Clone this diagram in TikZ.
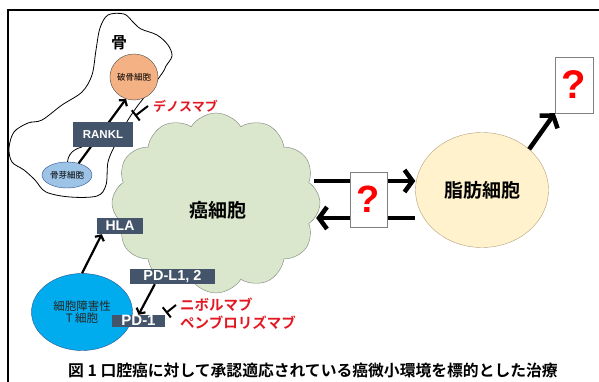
\documentclass[tikz,border=0pt]{standalone}
\usepackage{fontspec}
\setmainfont{Liberation Sans}
\newfontfamily\jp{Noto Sans CJK JP}[BoldFont={Noto Sans CJK JP Bold}]
\usetikzlibrary{shapes, arrows.meta, positioning}
\definecolor{slatebox}{RGB}{68,84,106}
\definecolor{drugred}{RGB}{225,25,35}
\definecolor{clastorange}{RGB}{244,177,131}
\definecolor{blastblue}{RGB}{157,195,230}
\definecolor{tcellblue}{RGB}{0,172,238}
\definecolor{cellline}{RGB}{47,82,143}
\definecolor{cloudgreen}{RGB}{218,231,204}
\definecolor{cloudline}{RGB}{120,130,120}
\definecolor{fatyellow}{RGB}{255,242,204}
\definecolor{fatline}{RGB}{180,160,120}
\newcommand{\fsz}[1]{\fontsize{#1}{#1}\selectfont}

\tikzset{
  markerbox/.style={fill=slatebox, text=white, inner sep=0pt},
  qbox/.style={draw=black!50, fill=white, text=red, inner sep=0pt},
  bigarrow/.style={line width=4.5pt, -{Straight Barb[length=8pt,width=22pt]}},
  smallarrow/.style={line width=2.2pt, -{Straight Barb[length=4pt,width=10pt]}},
  blocker/.style={line width=2pt, -{Bar[width=13pt]}},
  drug/.style={text=drugred, font=\jp\bfseries\fsz{14.5}, inner sep=0pt},
}

\begin{document}
\begin{tikzpicture}[x=1pt, y=-1pt]
  \useasboundingbox (0,0) rectangle (599,382);
  % frame
  \draw[line width=1.5pt] (8,10) rectangle (620,400);

  % bone
  \draw[fill=white, line width=0.8pt] plot[smooth cycle, tension=0.55] coordinates {
    (100,28) (108,15) (124,14) (133,22) (141,29) (157,35) (168,45) (172,56)
    (166,66) (163,72) (150,90) (136,108) (125,125) (115,145) (108,162)
    (106,185) (97,196) (70,197) (46,192) (35,180) (24,170) (12,162) (9,148)
    (14,132) (28,123) (42,120) (62,105) (82,92) (92,75) (96,50)};
  \draw[line width=0.8pt] (82,147) .. controls (70,150) and (66,158) .. (68,168);
  \node[font=\jp\bfseries\fsz{16}] (bone) at (119,43) {骨};
  \node[ellipse, draw=black!70, fill=clastorange, minimum width=44pt, minimum height=46pt, inner sep=0pt, font=\jp\fsz{8.5}] (clast) at (134,77) {破骨細胞};
  \node[ellipse, draw=cellline, fill=blastblue, minimum width=50pt, minimum height=26pt, inner sep=0pt, font=\jp\fsz{8.5}] (blast) at (67,175) {骨芽細胞};
  \draw[smallarrow] (blast.45) -- (clast.250);
  \node[markerbox, minimum width=60pt, minimum height=25pt, font=\bfseries\fsz{11.5}] (rankl) at (103,134.5) {RANKL};

  % denosumab
  \node[drug, font=\jp\bfseries\fsz{13}, anchor=west] (deno) at (153,106) {デノスマブ};
  \coordinate (denostop) at (135,116);
  \draw[blocker] ([xshift=-5pt]deno.west) -- (denostop);

  % cancer cell
  \node[cloud, cloud puffs=12, cloud puff arc=115, draw=cloudline, fill=cloudgreen, minimum width=208pt, minimum height=180pt] (cancer) at (216,203) {};
  \node[font=\jp\bfseries\fsz{19}] (cancerlbl) at (218,210) {癌細胞};

  % T cell and checkpoint
  \node[ellipse, draw=cellline, fill=tcellblue, minimum width=101pt, minimum height=77pt, align=center, font=\jp\fsz{11.5}, text=black!85] (tcell) at (82,312) {細胞障害性\\T 細胞};
  \node[markerbox, minimum width=46pt, minimum height=16pt, font=\bfseries\fsz{14}] (hla) at (120,226) {HLA};
  \node[markerbox, minimum width=85pt, minimum height=15pt, font=\bfseries\fsz{14.5}] (pdl) at (172.5,276.5) {PD-L1, 2};
  \node[markerbox, minimum width=53pt, minimum height=12pt, text height=8pt, text depth=0pt, font=\bfseries\fsz{15}] (pd1) at (138.5,321) {PD-1};
  \draw[smallarrow] (tcell.north) -- ([xshift=5pt]hla.south west);
  \draw[smallarrow] ([xshift=25pt]pdl.south west) -- (pd1.north);
  \node[drug, anchor=west] (nivo) at (180,305) {ニボルマブ};
  \node[drug, anchor=west] (pembro) at (180,323) {ペンブロリズマブ};
  \coordinate (pd1stop) at (166,313);
  \draw[blocker] ([xshift=-4pt]nivo.west) -- (pd1stop);

  % fat cell
  \node[ellipse, draw=fatline, fill=fatyellow, minimum width=133pt, minimum height=115pt, font=\jp\bfseries\fsz{19}] (fat) at (482,190) {脂肪細胞};
  \draw[bigarrow] ([xshift=-6pt, yshift=22pt]cancer.east) -- ([yshift=9pt]fat.west);
  \draw[bigarrow] ([yshift=-28pt]fat.west) -- ([xshift=-4pt, yshift=-15pt]cancer.east);
  \node[qbox, minimum width=37pt, minimum height=55pt, font=\bfseries\fsz{38}] (qmid) at (368.5,199.5) {?};
  \node[qbox, minimum width=38pt, minimum height=56pt, font=\bfseries\fsz{40}] (qtop) at (574,85) {?};
  \draw[bigarrow] (fat.north east) -- (qtop.south west);

  % caption
  \node[font=\jp\bfseries\fsz{15.8}] (caption) at (313,371) {図 1 口腔癌に対して承認適応されている癌微小環境を標的とした治療};
\end{tikzpicture}
\end{document}
